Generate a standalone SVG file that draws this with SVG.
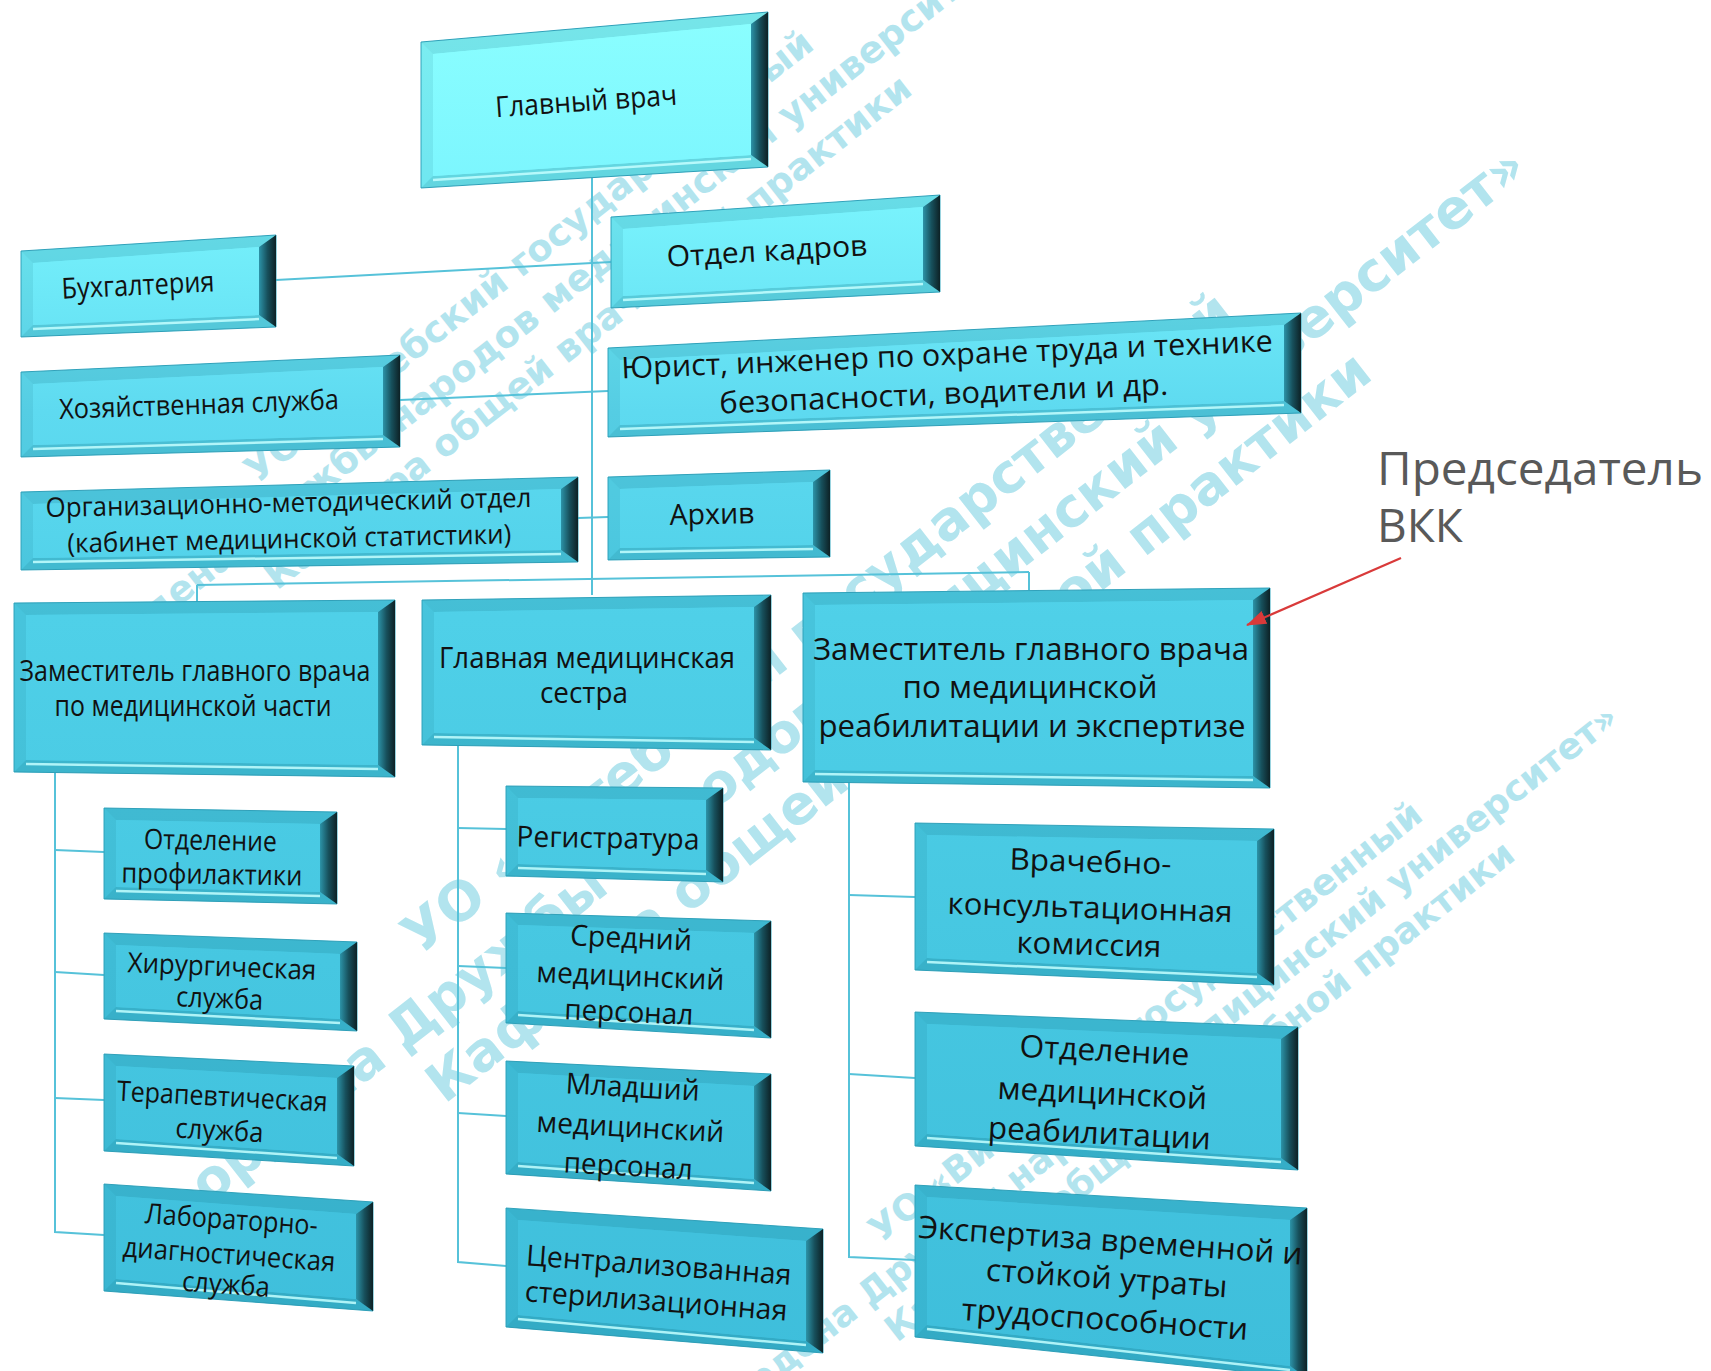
<svg xmlns="http://www.w3.org/2000/svg" width="1711" height="1371" viewBox="0 0 1711 1371">
<defs>
<linearGradient id="face" gradientUnits="userSpaceOnUse" x1="0" y1="0" x2="0" y2="1371">
<stop offset="0" stop-color="#8cffff"/>
<stop offset="0.13" stop-color="#7cf6fe"/>
<stop offset="0.3" stop-color="#5edaf0"/>
<stop offset="0.45" stop-color="#4fd0e8"/>
<stop offset="0.7" stop-color="#46c7e1"/>
<stop offset="1" stop-color="#3ebedb"/>
</linearGradient>
<linearGradient id="dark" x1="0" y1="0" x2="1" y2="0">
<stop offset="0" stop-color="#2c93a8"/>
<stop offset="0.5" stop-color="#17505c"/>
<stop offset="1" stop-color="#0d2125"/>
</linearGradient>
<marker id="ah" viewBox="0 0 20 14" markerWidth="20" markerHeight="14" refX="19" refY="7" orient="auto" markerUnits="userSpaceOnUse">
<path d="M0,0 L20,7 L0,14 z" fill="#d93a3a"/>
</marker>
<style>
.rim{fill:url(#face);stroke:#35a7c0;stroke-width:1}
.tb{fill:#0a6478;fill-opacity:.16}
.lb{fill:#0a6478;fill-opacity:.10}
.bb{fill:#0a6478;fill-opacity:.22}
.df{fill:url(#dark)}
.fc{fill:url(#face)}
.hl{stroke:#c4ffff;stroke-width:2.5;stroke-opacity:.85;fill:none}
.t{font-family:"Open Sans","Noto Sans",sans-serif;fill:#111;text-anchor:middle}
.c{stroke:#56c2d9;stroke-width:2;fill:none}
.wm text{font-family:"DejaVu Sans",Verdana,sans-serif;font-weight:bold;fill:#b2e4ee;text-anchor:middle}
.note{font-family:"Open Sans","Noto Sans",sans-serif;fill:#595959;font-size:46px}
</style>
</defs>
<rect width="1711" height="1371" fill="#ffffff"/>

<g id="watermark" class="wm">
<g transform="translate(566,304) rotate(-38)" font-size="37">
<text y="-48">УО «Витебский государственный</text>
<text y="0">ордена Дружбы народов медицинский университет»</text>
<text y="48">Кафедра общей врачебной практики</text>
</g>
<g transform="translate(869,689) rotate(-38)" font-size="54">
<text y="-66">УО «Витебский государственный</text>
<text y="0">ордена Дружбы народов медицинский университет»</text>
<text y="66">Кафедра общей врачебной практики</text>
</g>
<g transform="translate(1180,1066) rotate(-38)" font-size="36">
<text y="-44">УО «Витебский государственный</text>
<text y="0">ордена Дружбы народов медицинский университет»</text>
<text y="44">Кафедра общей врачебной практики</text>
</g>
</g>

<g id="connectors">
<line class="c" x1="592" y1="178" x2="592" y2="595"/>
<line class="c" x1="276" y1="280" x2="611" y2="262"/>
<line class="c" x1="400" y1="400" x2="608" y2="391"/>
<line class="c" x1="578" y1="518" x2="608" y2="517"/>
<line class="c" x1="197" y1="585" x2="1029" y2="572"/>
<line class="c" x1="197" y1="585" x2="197" y2="603"/>
<line class="c" x1="1029" y1="572" x2="1029" y2="590"/>
<polyline class="c" points="55,773 55,1232 104,1235"/>
<line class="c" x1="55" y1="850" x2="104" y2="852"/>
<line class="c" x1="55" y1="972" x2="104" y2="975"/>
<line class="c" x1="55" y1="1098" x2="104" y2="1100"/>
<polyline class="c" points="458,746 458,1262 506,1266"/>
<line class="c" x1="458" y1="828" x2="506" y2="829"/>
<line class="c" x1="458" y1="966" x2="506" y2="968"/>
<line class="c" x1="458" y1="1113" x2="506" y2="1116"/>
<polyline class="c" points="849,782 849,1257 915,1260"/>
<line class="c" x1="849" y1="895" x2="915" y2="897"/>
<line class="c" x1="849" y1="1074" x2="915" y2="1078"/>
</g>

<g id="n-glav">
<polygon class="rim" points="421,42 768,12 768,167 421,188"/>
<polygon class="tb" points="421,42 768,12 751,24 433,54"/>
<polygon class="lb" points="421,42 433,54 433,176 421,188"/>
<polygon class="bb" points="421,188 433,176 751,155 768,167"/>
<polygon class="df" points="768,12 768,167 751,155 751,24"/>
<polygon class="fc" points="433,54 751,24 751,155 433,176"/>
<line class="hl" x1="433" y1="180" x2="751" y2="159"/>
<text class="t" x="586" y="111" font-size="29" textLength="182" lengthAdjust="spacingAndGlyphs" transform="rotate(-4 586 100)">Главный врач</text>
</g>

<g id="n-buh">
<polygon class="rim" points="21,251 276,235 276,327 21,337"/>
<polygon class="tb" points="21,251 276,235 259,247 33,263"/>
<polygon class="lb" points="21,251 33,263 33,325 21,337"/>
<polygon class="bb" points="21,337 33,325 259,315 276,327"/>
<polygon class="df" points="276,235 276,327 259,315 259,247"/>
<polygon class="fc" points="33,263 259,247 259,315 33,325"/>
<line class="hl" x1="33" y1="329" x2="259" y2="319"/>
<text class="t" x="138" y="295" font-size="29" textLength="153" lengthAdjust="spacingAndGlyphs" transform="rotate(-2.8 138 286)">Бухгалтерия</text>
</g>

<g id="n-hoz">
<polygon class="rim" points="21,372 400,355 400,447 21,457"/>
<polygon class="tb" points="21,372 400,355 383,367 33,384"/>
<polygon class="lb" points="21,372 33,384 33,445 21,457"/>
<polygon class="bb" points="21,457 33,445 383,435 400,447"/>
<polygon class="df" points="400,355 400,447 383,435 383,367"/>
<polygon class="fc" points="33,384 383,367 383,435 33,445"/>
<line class="hl" x1="33" y1="449" x2="383" y2="439"/>
<text class="t" x="199" y="414" font-size="28" textLength="280" lengthAdjust="spacingAndGlyphs" transform="rotate(-2 199 405)">Хозяйственная служба</text>
</g>

<g id="n-org">
<polygon class="rim" points="21,492 578,477 578,562 21,570"/>
<polygon class="tb" points="21,492 578,477 561,489 33,504"/>
<polygon class="lb" points="21,492 33,504 33,558 21,570"/>
<polygon class="bb" points="21,570 33,558 561,550 578,562"/>
<polygon class="df" points="578,477 578,562 561,550 561,489"/>
<polygon class="fc" points="33,504 561,489 561,550 33,558"/>
<line class="hl" x1="33" y1="562" x2="561" y2="554"/>
<g transform="rotate(-1.2 289 525)">
<text class="t" x="289" y="512" font-size="27" textLength="486" lengthAdjust="spacingAndGlyphs">Организационно-методический отдел</text>
<text class="t" x="289" y="548" font-size="27" textLength="444" lengthAdjust="spacingAndGlyphs">(кабинет медицинской статистики)</text>
</g>
</g>

<g id="n-kadr">
<polygon class="rim" points="611,217 940,195 940,292 611,308"/>
<polygon class="tb" points="611,217 940,195 923,207 623,229"/>
<polygon class="lb" points="611,217 623,229 623,296 611,308"/>
<polygon class="bb" points="611,308 623,296 923,280 940,292"/>
<polygon class="df" points="940,195 940,292 923,280 923,207"/>
<polygon class="fc" points="623,229 923,207 923,280 623,296"/>
<line class="hl" x1="623" y1="300" x2="923" y2="284"/>
<text class="t" x="767" y="261" font-size="29" textLength="201" lengthAdjust="spacingAndGlyphs" transform="rotate(-3.3 767 252)">Отдел кадров</text>
</g>

<g id="n-yur">
<polygon class="rim" points="608,348 1301,313 1301,413 608,437"/>
<polygon class="tb" points="608,348 1301,313 1284,325 620,360"/>
<polygon class="lb" points="608,348 620,360 620,425 608,437"/>
<polygon class="bb" points="608,437 620,425 1284,401 1301,413"/>
<polygon class="df" points="1301,313 1301,413 1284,401 1284,325"/>
<polygon class="fc" points="620,360 1284,325 1284,401 620,425"/>
<line class="hl" x1="620" y1="429" x2="1284" y2="405"/>
<g transform="rotate(-2.4 945 380)">
<text class="t" x="948" y="365" font-size="30" textLength="652" lengthAdjust="spacingAndGlyphs">Юрист, инженер по охране труда и технике</text>
<text class="t" x="943" y="404" font-size="30" textLength="449" lengthAdjust="spacingAndGlyphs">безопасности, водители и др.</text>
</g>
</g>

<g id="n-arh">
<polygon class="rim" points="608,477 830,470 830,557 608,560"/>
<polygon class="tb" points="608,477 830,470 813,482 620,489"/>
<polygon class="lb" points="608,477 620,489 620,548 608,560"/>
<polygon class="bb" points="608,560 620,548 813,545 830,557"/>
<polygon class="df" points="830,470 830,557 813,545 813,482"/>
<polygon class="fc" points="620,489 813,482 813,545 620,548"/>
<line class="hl" x1="620" y1="552" x2="813" y2="549"/>
<text class="t" x="712" y="524" font-size="29" textLength="85" lengthAdjust="spacingAndGlyphs" transform="rotate(-1.3 712 515)">Архив</text>
</g>

<g id="n-zammed">
<polygon class="rim" points="14,603 395,600 395,777 14,772"/>
<polygon class="tb" points="14,603 395,600 378,612 26,615"/>
<polygon class="lb" points="14,603 26,615 26,760 14,772"/>
<polygon class="bb" points="14,772 26,760 378,765 395,777"/>
<polygon class="df" points="395,600 395,777 378,765 378,612"/>
<polygon class="fc" points="26,615 378,612 378,765 26,760"/>
<line class="hl" x1="26" y1="764" x2="378" y2="769"/>
<text class="t" x="195" y="681" font-size="29" textLength="351" lengthAdjust="spacingAndGlyphs">Заместитель главного врача</text>
<text class="t" x="193" y="716" font-size="29" textLength="277" lengthAdjust="spacingAndGlyphs">по медицинской части</text>
</g>

<g id="n-gms">
<polygon class="rim" points="422,600 771,595 771,750 422,745"/>
<polygon class="tb" points="422,600 771,595 754,607 434,612"/>
<polygon class="lb" points="422,600 434,612 434,733 422,745"/>
<polygon class="bb" points="422,745 434,733 754,738 771,750"/>
<polygon class="df" points="771,595 771,750 754,738 754,607"/>
<polygon class="fc" points="434,612 754,607 754,738 434,733"/>
<line class="hl" x1="434" y1="737" x2="754" y2="742"/>
<text class="t" x="587" y="668" font-size="29" textLength="296" lengthAdjust="spacingAndGlyphs">Главная медицинская</text>
<text class="t" x="584" y="703" font-size="29" textLength="88" lengthAdjust="spacingAndGlyphs">сестра</text>
</g>

<g id="n-zamreab">
<polygon class="rim" points="803,593 1270,588 1270,788 803,782"/>
<polygon class="tb" points="803,593 1270,588 1253,600 815,605"/>
<polygon class="lb" points="803,593 815,605 815,770 803,782"/>
<polygon class="bb" points="803,782 815,770 1253,776 1270,788"/>
<polygon class="df" points="1270,588 1270,788 1253,776 1253,600"/>
<polygon class="fc" points="815,605 1253,600 1253,776 815,770"/>
<line class="hl" x1="815" y1="774" x2="1253" y2="780"/>
<text class="t" x="1031" y="660" font-size="31" textLength="436" lengthAdjust="spacingAndGlyphs">Заместитель главного врача</text>
<text class="t" x="1030" y="698" font-size="31" textLength="255" lengthAdjust="spacingAndGlyphs">по медицинской</text>
<text class="t" x="1032" y="737" font-size="31" textLength="427" lengthAdjust="spacingAndGlyphs">реабилитации и экспертизе</text>
</g>

<g id="n-prof">
<polygon class="rim" points="104,808 337,812 337,904 104,899"/>
<polygon class="tb" points="104,808 337,812 320,824 116,820"/>
<polygon class="lb" points="104,808 116,820 116,887 104,899"/>
<polygon class="bb" points="104,899 116,887 320,892 337,904"/>
<polygon class="df" points="337,812 337,904 320,892 320,824"/>
<polygon class="fc" points="116,820 320,824 320,892 116,887"/>
<line class="hl" x1="116" y1="891" x2="320" y2="896"/>
<g transform="rotate(1 211 865)">
<text class="t" x="210" y="850" font-size="28" textLength="133" lengthAdjust="spacingAndGlyphs">Отделение</text>
<text class="t" x="212" y="884" font-size="28" textLength="181" lengthAdjust="spacingAndGlyphs">профилактики</text>
</g>
</g>

<g id="n-hir">
<polygon class="rim" points="104,933 357,942 357,1031 104,1019"/>
<polygon class="tb" points="104,933 357,942 340,954 116,945"/>
<polygon class="lb" points="104,933 116,945 116,1007 104,1019"/>
<polygon class="bb" points="104,1019 116,1007 340,1019 357,1031"/>
<polygon class="df" points="357,942 357,1031 340,1019 340,954"/>
<polygon class="fc" points="116,945 340,954 340,1019 116,1007"/>
<line class="hl" x1="116" y1="1011" x2="340" y2="1023"/>
<g transform="rotate(2.3 221 990)">
<text class="t" x="221" y="976" font-size="28" textLength="189" lengthAdjust="spacingAndGlyphs">Хирургическая</text>
<text class="t" x="220" y="1008" font-size="28" textLength="87" lengthAdjust="spacingAndGlyphs">служба</text>
</g>
</g>

<g id="n-ter">
<polygon class="rim" points="104,1054 354,1066 354,1166 104,1151"/>
<polygon class="tb" points="104,1054 354,1066 337,1078 116,1066"/>
<polygon class="lb" points="104,1054 116,1066 116,1139 104,1151"/>
<polygon class="bb" points="104,1151 116,1139 337,1154 354,1166"/>
<polygon class="df" points="354,1066 354,1166 337,1154 337,1078"/>
<polygon class="fc" points="116,1066 337,1078 337,1154 116,1139"/>
<line class="hl" x1="116" y1="1143" x2="337" y2="1158"/>
<g transform="rotate(3 221 1120)">
<text class="t" x="221" y="1106" font-size="28" textLength="211" lengthAdjust="spacingAndGlyphs">Терапевтическая</text>
<text class="t" x="220" y="1140" font-size="28" textLength="88" lengthAdjust="spacingAndGlyphs">служба</text>
</g>
</g>

<g id="n-lab">
<polygon class="rim" points="104,1184 373,1202 373,1311 104,1291"/>
<polygon class="tb" points="104,1184 373,1202 356,1214 116,1196"/>
<polygon class="lb" points="104,1184 116,1196 116,1279 104,1291"/>
<polygon class="bb" points="104,1291 116,1279 356,1299 373,1311"/>
<polygon class="df" points="373,1202 373,1311 356,1299 356,1214"/>
<polygon class="fc" points="116,1196 356,1214 356,1299 116,1279"/>
<line class="hl" x1="116" y1="1283" x2="356" y2="1303"/>
<g transform="rotate(4 229 1255)">
<text class="t" x="229" y="1229" font-size="28" textLength="173" lengthAdjust="spacingAndGlyphs">Лабораторно-</text>
<text class="t" x="229" y="1264" font-size="28" textLength="213" lengthAdjust="spacingAndGlyphs">диагностическая</text>
<text class="t" x="228" y="1294" font-size="28" textLength="88" lengthAdjust="spacingAndGlyphs">служба</text>
</g>
</g>

<g id="n-reg">
<polygon class="rim" points="506,786 723,788 723,882 506,876"/>
<polygon class="tb" points="506,786 723,788 706,800 518,798"/>
<polygon class="lb" points="506,786 518,798 518,864 506,876"/>
<polygon class="bb" points="506,876 518,864 706,870 723,882"/>
<polygon class="df" points="723,788 723,882 706,870 706,800"/>
<polygon class="fc" points="518,798 706,800 706,870 518,864"/>
<line class="hl" x1="518" y1="868" x2="706" y2="874"/>
<text class="t" x="608" y="848" font-size="29" textLength="183" lengthAdjust="spacingAndGlyphs" transform="rotate(1 608 838)">Регистратура</text>
</g>

<g id="n-sred">
<polygon class="rim" points="506,913 771,921 771,1038 506,1023"/>
<polygon class="tb" points="506,913 771,921 754,933 518,925"/>
<polygon class="lb" points="506,913 518,925 518,1011 506,1023"/>
<polygon class="bb" points="506,1023 518,1011 754,1026 771,1038"/>
<polygon class="df" points="771,921 771,1038 754,1026 754,933"/>
<polygon class="fc" points="518,925 754,933 754,1026 518,1011"/>
<line class="hl" x1="518" y1="1015" x2="754" y2="1030"/>
<g transform="rotate(2.5 630 985)">
<text class="t" x="629" y="948" font-size="29" textLength="122" lengthAdjust="spacingAndGlyphs">Средний</text>
<text class="t" x="630" y="986" font-size="29" textLength="188" lengthAdjust="spacingAndGlyphs">медицинский</text>
<text class="t" x="630" y="1022" font-size="29" textLength="129" lengthAdjust="spacingAndGlyphs">персонал</text>
</g>
</g>

<g id="n-mlad">
<polygon class="rim" points="506,1061 771,1074 771,1191 506,1174"/>
<polygon class="tb" points="506,1061 771,1074 754,1086 518,1073"/>
<polygon class="lb" points="506,1061 518,1073 518,1162 506,1174"/>
<polygon class="bb" points="506,1174 518,1162 754,1179 771,1191"/>
<polygon class="df" points="771,1074 771,1191 754,1179 754,1086"/>
<polygon class="fc" points="518,1073 754,1086 754,1179 518,1162"/>
<line class="hl" x1="518" y1="1166" x2="754" y2="1183"/>
<g transform="rotate(3.2 630 1135)">
<text class="t" x="630" y="1097" font-size="29" textLength="134" lengthAdjust="spacingAndGlyphs">Младший</text>
<text class="t" x="630" y="1137" font-size="29" textLength="188" lengthAdjust="spacingAndGlyphs">медицинский</text>
<text class="t" x="630" y="1176" font-size="29" textLength="129" lengthAdjust="spacingAndGlyphs">персонал</text>
</g>
</g>

<g id="n-centr">
<polygon class="rim" points="506,1208 823,1229 823,1353 506,1327"/>
<polygon class="tb" points="506,1208 823,1229 806,1241 518,1220"/>
<polygon class="lb" points="506,1208 518,1220 518,1315 506,1327"/>
<polygon class="bb" points="506,1327 518,1315 806,1341 823,1353"/>
<polygon class="df" points="823,1229 823,1353 806,1341 806,1241"/>
<polygon class="fc" points="518,1220 806,1241 806,1341 518,1315"/>
<line class="hl" x1="518" y1="1319" x2="806" y2="1345"/>
<g transform="rotate(4.2 657 1290)">
<text class="t" x="657" y="1275" font-size="29" textLength="266" lengthAdjust="spacingAndGlyphs">Централизованная</text>
<text class="t" x="657" y="1311" font-size="29" textLength="263" lengthAdjust="spacingAndGlyphs">стерилизационная</text>
</g>
</g>

<g id="n-vkk">
<polygon class="rim" points="915,823 1274,829 1274,985 915,970"/>
<polygon class="tb" points="915,823 1274,829 1257,841 927,835"/>
<polygon class="lb" points="915,823 927,835 927,958 915,970"/>
<polygon class="bb" points="915,970 927,958 1257,973 1274,985"/>
<polygon class="df" points="1274,829 1274,985 1257,973 1257,841"/>
<polygon class="fc" points="927,835 1257,841 1257,973 927,958"/>
<line class="hl" x1="927" y1="962" x2="1257" y2="977"/>
<g transform="rotate(1.7 1090 910)">
<text class="t" x="1089" y="872" font-size="30" textLength="162" lengthAdjust="spacingAndGlyphs">Врачебно-</text>
<text class="t" x="1090" y="918" font-size="30" textLength="285" lengthAdjust="spacingAndGlyphs">консультационная</text>
<text class="t" x="1090" y="955" font-size="30" textLength="145" lengthAdjust="spacingAndGlyphs">комиссия</text>
</g>
</g>

<g id="n-otdreab">
<polygon class="rim" points="915,1012 1298,1027 1298,1170 915,1146"/>
<polygon class="tb" points="915,1012 1298,1027 1281,1039 927,1024"/>
<polygon class="lb" points="915,1012 927,1024 927,1134 915,1146"/>
<polygon class="bb" points="915,1146 927,1134 1281,1158 1298,1170"/>
<polygon class="df" points="1298,1027 1298,1170 1281,1158 1281,1039"/>
<polygon class="fc" points="927,1024 1281,1039 1281,1158 927,1134"/>
<line class="hl" x1="927" y1="1138" x2="1281" y2="1162"/>
<g transform="rotate(2.9 1102 1100)">
<text class="t" x="1102" y="1061" font-size="31" textLength="170" lengthAdjust="spacingAndGlyphs">Отделение</text>
<text class="t" x="1102" y="1104" font-size="31" textLength="210" lengthAdjust="spacingAndGlyphs">медицинской</text>
<text class="t" x="1101" y="1144" font-size="31" textLength="223" lengthAdjust="spacingAndGlyphs">реабилитации</text>
</g>
</g>

<g id="n-eksp">
<polygon class="rim" points="915,1185 1307,1208 1307,1378 915,1337"/>
<polygon class="tb" points="915,1185 1307,1208 1290,1220 927,1197"/>
<polygon class="lb" points="915,1185 927,1197 927,1325 915,1337"/>
<polygon class="bb" points="915,1337 927,1325 1290,1366 1307,1378"/>
<polygon class="df" points="1307,1208 1307,1378 1290,1366 1290,1220"/>
<polygon class="fc" points="927,1197 1290,1220 1290,1366 927,1325"/>
<line class="hl" x1="927" y1="1329" x2="1290" y2="1370"/>
<g transform="rotate(4 1107 1290)">
<text class="t" x="1107" y="1251" font-size="31" textLength="385" lengthAdjust="spacingAndGlyphs">Экспертиза временной и</text>
<text class="t" x="1106" y="1289" font-size="31" textLength="242" lengthAdjust="spacingAndGlyphs">стойкой утраты</text>
<text class="t" x="1107" y="1330" font-size="31" textLength="287" lengthAdjust="spacingAndGlyphs">трудоспособности</text>
</g>
</g>

<g id="n-note">
<text class="note" x="1377" y="485" textLength="326" lengthAdjust="spacingAndGlyphs">Председатель</text>
<text class="note" x="1377" y="542">ВКК</text>
</g>

<g id="annotation-arrow">
<line x1="1401" y1="558" x2="1247" y2="625" stroke="#d93a3a" stroke-width="2.2" marker-end="url(#ah)"/>
</g>
</svg>
